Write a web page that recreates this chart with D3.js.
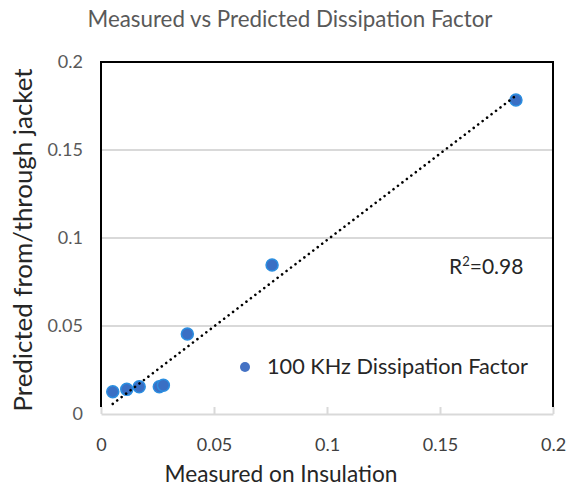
<!DOCTYPE html>
<html>
<head>
<meta charset="utf-8">
<script src="https://cdn.jsdelivr.net/npm/d3@7"></script>
<style>
  html, body { margin: 0; padding: 0; background: #fff; }
  svg { display: block; font-family: Lato, "Open Sans", sans-serif; }
</style>
</head>
<body>
<svg id="chart" width="568" height="491"></svg>
<script>
// Dissipation factor at 100 kHz: measured on insulation vs predicted from/through jacket
const measured  = [0.0052, 0.0114, 0.0169, 0.0258, 0.0276, 0.0382, 0.0757, 0.1836];
const predicted = [0.0127, 0.0140, 0.0155, 0.0155, 0.0163, 0.0455, 0.0847, 0.1784];
const xTicks = [0, 0.05, 0.1, 0.15, 0.2];
const yTicks = [0, 0.05, 0.1, 0.15, 0.2];
const rSquared = "0.98";
const seriesName = "100 KHz Dissipation Factor";

const points = measured.map((m, i) => ({ x: m, y: predicted[i] }));

const svg = d3.select("#chart");
const plot = { left: 101, right: 553, top: 62, bottom: 414 };

const x = d3.scaleLinear().domain([0, 0.2]).range([plot.left, plot.right]);
const y = d3.scaleLinear().domain([0, 0.2]).range([plot.bottom, plot.top]);

// Title
svg.append("text")
  .attr("x", 290).attr("y", 27)
  .attr("text-anchor", "middle")
  .attr("font-size", 22.5).attr("fill", "#595959")
  .attr("textLength", 405).attr("lengthAdjust", "spacingAndGlyphs")
  .text("Measured vs Predicted Dissipation Factor");

// Horizontal gridlines
svg.append("g")
  .selectAll("line")
  .data(yTicks.filter(t => t > 0 && t < 0.2))
  .join("line")
  .attr("x1", plot.left).attr("x2", plot.right)
  .attr("y1", d => y(d)).attr("y2", d => y(d))
  .attr("stroke", "#d9d9d9").attr("stroke-width", 2);

// X axis: grey baseline with inside ticks
const xAxis = d3.axisBottom(x).tickValues(xTicks).tickSizeInner(-7).tickSizeOuter(0)
  .tickFormat(d3.format("~g")).tickPadding(24);
const gx = svg.append("g").attr("transform", `translate(0,${plot.bottom})`).call(xAxis);
gx.select(".domain").attr("stroke", "#d9d9d9").attr("stroke-width", 2);
gx.selectAll(".tick line").attr("stroke", "#d9d9d9").attr("stroke-width", 2);
gx.selectAll(".tick text").attr("font-size", 18).attr("fill", "#404040")
  .attr("font-family", "Lato, sans-serif");

// Y axis labels (no line; frame drawn separately)
const yAxis = d3.axisLeft(y).tickValues(yTicks).tickSize(0).tickPadding(18)
  .tickFormat(d3.format("~g"));
const gy = svg.append("g").attr("transform", `translate(${plot.left},0)`).call(yAxis);
gy.select(".domain").remove();
gy.selectAll(".tick text").attr("font-size", 18).attr("fill", "#595959")
  .attr("font-family", "Lato, sans-serif");

// Black frame on top, left and right
svg.append("path")
  .attr("d", `M${plot.left},${plot.bottom - 7}V${plot.top}H${plot.right}V${plot.bottom - 7}`)
  .attr("fill", "none").attr("stroke", "#000").attr("stroke-width", 2);

// Least-squares trendline over the data range
const mx = d3.mean(measured), my = d3.mean(predicted);
const sxy = d3.sum(points, p => (p.x - mx) * (p.y - my));
const sxx = d3.sum(points, p => (p.x - mx) ** 2);
const slope = sxy / sxx, intercept = my - slope * mx;
const [xmin, xmax] = d3.extent(measured);
const trend = [xmin, xmax].map(v => ({ x: v, y: intercept + slope * v }));

// Points
svg.append("g")
  .selectAll("circle")
  .data(points)
  .join("circle")
  .attr("cx", d => x(d.x)).attr("cy", d => y(d.y))
  .attr("r", 6)
  .attr("fill", "#3a6fc4").attr("stroke", "#2b8ee0").attr("stroke-width", 1.5);

svg.append("path")
  .datum(trend)
  .attr("d", d3.line().x(d => x(d.x)).y(d => y(d.y)))
  .attr("fill", "none").attr("stroke", "#000")
  .attr("stroke-width", 2.6).attr("stroke-linecap", "round")
  .attr("stroke-dasharray", "0.01 5.6");

// R-squared label
const r2 = svg.append("text").attr("x", 449).attr("y", 274)
  .attr("font-size", 21).attr("fill", "#262626");
r2.append("tspan").text("R");
r2.append("tspan").attr("font-size", 13).attr("dy", -8).text("2");
r2.append("tspan").attr("dy", 8).text("=" + rSquared);

// Legend
svg.append("circle").attr("cx", 245).attr("cy", 367).attr("r", 5).attr("fill", "#4472c4");
svg.append("text").attr("x", 267).attr("y", 374)
  .attr("font-size", 21.5).attr("fill", "#262626")
  .attr("textLength", 261).attr("lengthAdjust", "spacingAndGlyphs")
  .text(seriesName);

// Axis titles
svg.append("text")
  .attr("x", 281).attr("y", 482)
  .attr("text-anchor", "middle")
  .attr("font-size", 23).attr("fill", "#262626")
  .attr("textLength", 233).attr("lengthAdjust", "spacingAndGlyphs")
  .text("Measured on Insulation");

svg.append("text")
  .attr("transform", "translate(32,240) rotate(-90)")
  .attr("text-anchor", "middle")
  .attr("font-size", 25).attr("fill", "#262626")
  .attr("textLength", 343).attr("lengthAdjust", "spacingAndGlyphs")
  .text("Predicted from/through jacket");
</script>
</body>
</html>
